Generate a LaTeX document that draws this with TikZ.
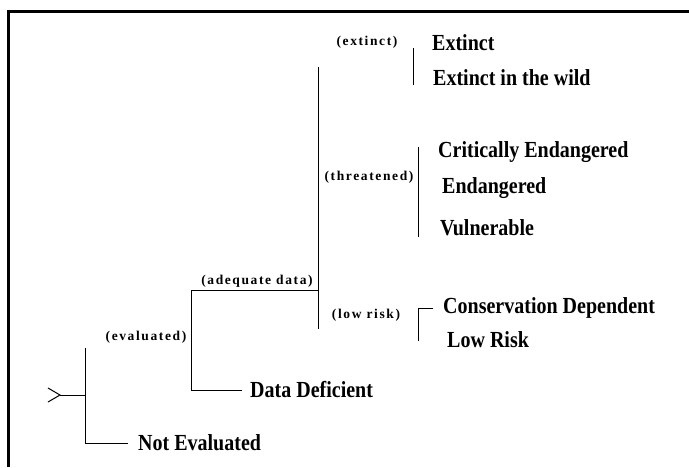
\documentclass[tikz,border=0pt]{standalone}
\usepackage{fontspec}
\setmainfont{Liberation Serif}
\newfontfamily\catfont{Liberation Serif}[FakeStretch=0.87]
\newfontfamily\critfont{Liberation Serif}[LetterSpace=12]
\usetikzlibrary{positioning}

\begin{document}
\begin{tikzpicture}[
    % one unit = one pixel of the scan, y grows downwards
    x=1pt, y=-1pt,
    cat/.style={anchor=west, inner sep=0pt, font=\catfont\bfseries\fontsize{23}{23}\selectfont},
    crit/.style={inner sep=0pt, font=\critfont\bfseries\fontsize{13.5}{13.5}\selectfont},
    branch/.style={line width=1pt},
    frame/.style={line width=3pt}
]
    \useasboundingbox (0,0) rectangle (689,467);
    \draw[frame] (8,467) -- (8,11) -- (689,11);

    % categories
    \node[cat] (ex) at (432,43)  {Extinct};
    \node[cat] (ew) at (433,78)  {Extinct in the wild};
    \node[cat] (ce) at (438,152) {Critically Endangered};
    \node[cat] (en) at (442,188) {Endangered};
    \node[cat] (vu) at (440,228) {Vulnerable};
    \node[cat] (cd) at (443,308) {Conservation Dependent};
    \node[cat] (lr) at (447,340) {Low Risk};
    \node[cat] (dd) at (250,390) {Data Deficient};
    \node[cat] (ne) at (138,443) {Not Evaluated};

    % criteria
    \node[crit] (extinct)    at (367,42)  {(extinct)};
    \node[crit] (threatened) at (369,177) {(threatened)};
    \node[crit] (adequate)   at (257,281) {(adequate data)};
    \node[crit] (lowrisk)    at (366,315) {(low risk)};
    \node[crit] (evaluated)  at (146,337) {(evaluated)};

    % branch points
    \coordinate (tip) at (60,395);
    \coordinate (rootbar) at (85,348);
    \coordinate (evbar) at (191,290);
    \coordinate (adbar) at (318,67);
    \coordinate (adend) at (318,329);

    \draw[branch] (48,388) -- (tip) -- (48,402);
    \draw[branch] (tip) -- (tip -| rootbar);
    \draw[branch] (rootbar) |- ([xshift=-10pt]ne.west);
    \draw[branch] (evbar) |- ([xshift=-8pt]dd.west);
    \draw[branch] (evbar) -- (evbar -| adbar);
    \draw[branch] (adbar) -- (adend);

    % brackets
    \draw[branch] (413,48) -- (413,85);
    \draw[branch] (418,147) -- (418,237);
    \draw[branch] ([xshift=-10pt]cd.west) -| (418,341);
\end{tikzpicture}
\end{document}
